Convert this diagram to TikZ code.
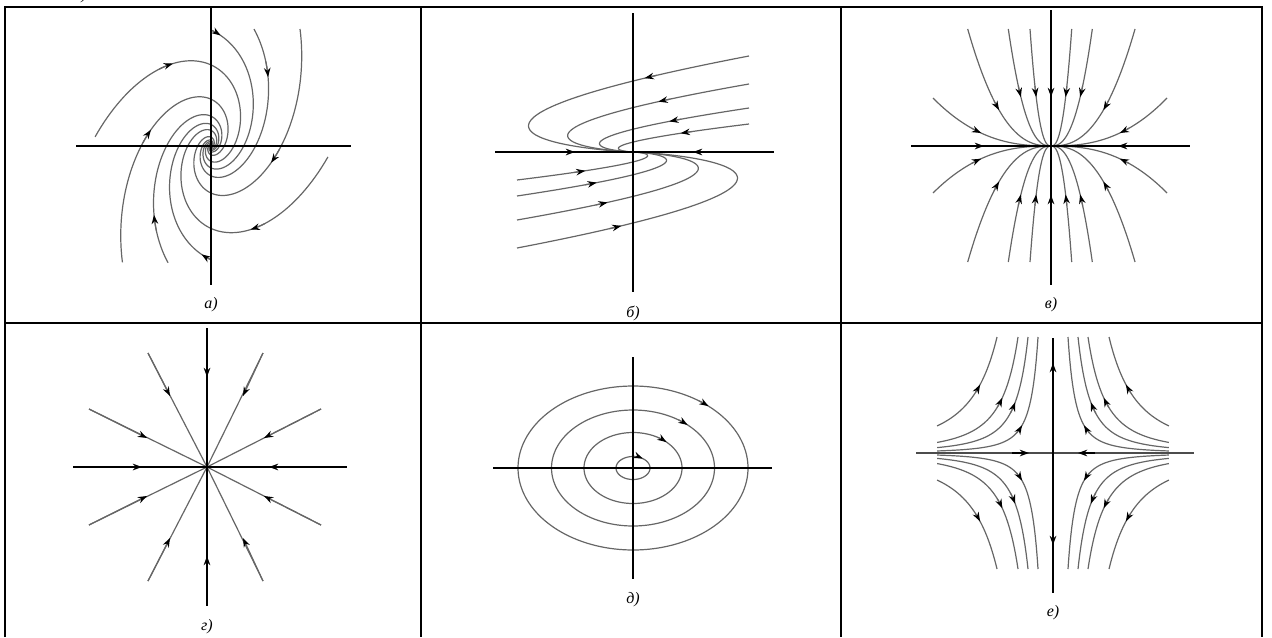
\documentclass[tikz,border=0pt]{standalone}
\usepackage{fontspec}
\setmainfont{Liberation Serif}
\usetikzlibrary{arrows.meta}

% panel a: spiral (stable focus)
\newcommand\SpiralA[4]{%
\draw[traj] plot[domain=0:8,samples=240,variable=\s]
 ({211+(#2)*exp(-0.53*\s)*(0.2588*cos(#1-deg(\s))-0.6568*sin(#1-deg(\s)))},
  {146-(#2)*exp(-0.53*\s)*(0.9659*cos(#1-deg(\s))+0.1760*sin(#1-deg(\s)))});
\draw[traj,tip] plot[domain=#3:#4,samples=8,variable=\s]
 ({211+(#2)*exp(-0.53*\s)*(0.2588*cos(#1-deg(\s))-0.6568*sin(#1-deg(\s)))},
  {146-(#2)*exp(-0.53*\s)*(0.9659*cos(#1-deg(\s))+0.1760*sin(#1-deg(\s)))});
}
% panel b: degenerate node
\newcommand\CurveB[4]{%
\draw[traj] plot[domain=0:30,samples=400,variable=\t]
 ({633+(#2)*(116-(#1)*\t)*exp(-0.25*\t)},{152-(#2)*(#1)*exp(-0.25*\t)});
\draw[traj,tip] plot[domain=#3:#4,samples=8,variable=\t]
 ({633+(#2)*(116-(#1)*\t)*exp(-0.25*\t)},{152-(#2)*(#1)*exp(-0.25*\t)});
}
% panel c: node
\newcommand\CurveC[4]{%
\draw[traj] plot[domain=1:0.02,samples=120,variable=\t]
 ({1051+(#1)*\t},{146-(#2)*\t^2.5}) -- (Oc);
\draw[traj,tip] plot[domain=#3:#4,samples=8,variable=\t]
 ({1051+(#1)*\t},{146-(#2)*\t^2.5});
}
% panel f: saddle
\newcommand\CurveF[5]{%
\draw[traj] plot[domain=0:1,samples=80,variable=\t]
 ({1053+(#1)*#3*(116/#3)^\t},{453-(#2)*116*(#3/116)^(2*\t)});
\draw[traj,tip] plot[domain=#4:#5,samples=8,variable=\t]
 ({1053+(#1)*#3*(116/#3)^\t},{453-(#2)*116*(#3/116)^(2*\t)});
}
% panel e: ellipse
\newcommand\EllD[4]{%
\draw[traj] plot[domain=0:360,samples=150,variable=\t]
 ({633+#1*cos(\t)},{468-#2*sin(\t)}) -- cycle;
\draw[traj,tip] plot[domain=#3:#4,samples=10,variable=\t]
 ({633+#1*cos(\t)},{468-#2*sin(\t)});
}

\begin{document}
\begin{tikzpicture}[x=0.5pt,y=-0.5pt,
  grid/.style={line width=1.3pt,black},
  axis/.style={line width=0.9pt,black},
  traj/.style={line width=0.6pt,black!60},
  tip/.style={-{Stealth[length=4.6pt,width=3.3pt,color=black]}},
  lbl/.style={font=\fontsize{8}{9}\selectfont\itshape,inner sep=0pt}]
\useasboundingbox (0,0) rectangle (1272,637);

% fragment of text above the table
\begin{scope}
\clip (70,0) rectangle (100,3.5);
\node[lbl] (frag) at (84,-4) {)};
\end{scope}

% table
\draw[grid] (5,637) -- (5,7) -- (1262,7) -- (1262,637);
\draw[grid] (421,7) -- (421,637);
\draw[grid] (841,7) -- (841,637);
\draw[grid] (5,323) -- (1262,323);

\coordinate (Oa) at (211,146);
\coordinate (Ob) at (633,152);
\coordinate (Oc) at (1051,146);
\coordinate (Od) at (207,467);
\coordinate (Oe) at (633,468);
\coordinate (Of) at (1053,453);

% ---------- panel a ----------
\SpiralA{97.2}{169.5}{0.66}{0.81}
\SpiralA{21.5}{120.4}{0}{0.12}
\SpiralA{-7.6}{125.2}{0.31}{0.46}
\SpiralA{-31.05}{158.8}{0.885}{1.035}
\SpiralA{-83.4}{171.4}{0.64}{0.79}
\SpiralA{-158.5}{118}{0}{0.12}
\SpiralA{172.4}{125}{0.31}{0.46}
\SpiralA{148.95}{158}{0.88}{1.03}
\draw[axis] (76,146) -- (351,146);
\draw[axis] (211,7) -- (211,285);
\node[lbl] (la) at (211,305) {а)};

% ---------- panel b ----------
\foreach \sg in {1,-1}{
\CurveB{96}{\sg}{0.9}{1.05}
\CurveB{68}{\sg}{1.0}{1.2}
\CurveB{44}{\sg}{1.17}{1.45}
\CurveB{28}{\sg}{1.25}{1.6}
}
\draw[axis] (495,152) -- (774,152);
\draw[axis] (633,13) -- (633,292);
\draw[axis,tip] (560,152) -- (575,152);
\draw[axis,tip] (708,152) -- (693,152);
\node[lbl] (lb) at (633,313) {б)};

% ---------- panel c ----------
\foreach \xx/\ta in {-83.3/0.624,-42.7/0.706,-21/0.706,20.7/0.706,41.3/0.706,84/0.624}{
\CurveC{\xx}{117}{\ta+0.06}{\ta}
\CurveC{\xx}{-116}{\ta+0.06}{\ta}
}
\foreach \xx in {-118,116}{
\CurveC{\xx}{48}{0.673}{0.593}
\CurveC{\xx}{-47}{0.673}{0.593}
}
\draw[axis] (911,146) -- (1190,146);
\draw[axis] (1051,10) -- (1051,285);
\draw[axis,tip] (1051,80) -- (1051,97);
\draw[axis,tip] (1051,212) -- (1051,195);
\draw[axis,tip] (965,146) -- (984,146);
\draw[axis,tip] (1137,146) -- (1118,146);
\node[lbl] (lc) at (1051,305) {в)};

% ---------- panel d (star) ----------
\foreach \ex/\ey/\tx/\ty in {148/353/170/396, 263/353/243/396, 89/409/147/438, 321/409/264/438,
  89/525/147/496, 321/525/264/496, 148/581/170/538, 263/581/243/538}{
\draw[traj] (\ex,\ey) -- (Od);
\draw[traj,tip] (\ex,\ey) -- (\tx,\ty);
}
\draw[axis] (73,467) -- (347,467);
\draw[axis] (207,328) -- (207,606);
\draw[axis,tip] (207,360) -- (207,377);
\draw[axis,tip] (207,573) -- (207,556);
\draw[axis,tip] (125,467) -- (142,467);
\draw[axis,tip] (286,467) -- (269,467);
\node[lbl] (ld) at (207,627) {г)};

% ---------- panel e (centre) ----------
\EllD{115}{82}{55}{49}
\EllD{81.5}{58}{56}{48}
\EllD{49}{35.5}{60}{47}
\EllD{17}{11.5}{90}{55}
\draw[axis] (493,468) -- (772,468);
\draw[axis] (633,357) -- (633,579);
\node[lbl] (le) at (633,600) {д)};

% ---------- panel f (saddle) ----------
\foreach \sx in {1,-1}{
\foreach \sy in {1,-1}{
\CurveF{\sx}{\sy}{56}{0.444}{0.364}
\CurveF{\sx}{\sy}{35}{0.39}{0.31}
\CurveF{\sx}{\sy}{25}{0.35}{0.27}
\CurveF{\sx}{\sy}{15}{0.435}{0.355}
}}
\draw[line width=1.1pt,black!70] (916,453) -- (1194,453);
\draw[axis] (1053,338) -- (1053,593);
\draw[axis,tip] (1053,380) -- (1053,363);
\draw[axis,tip] (1053,528) -- (1053,545);
\draw[axis,tip] (1012,453) -- (1029,453);
\draw[axis,tip] (1095,453) -- (1078,453);
\node[lbl] (lf) at (1053,613) {е)};
\end{tikzpicture}
\end{document}
